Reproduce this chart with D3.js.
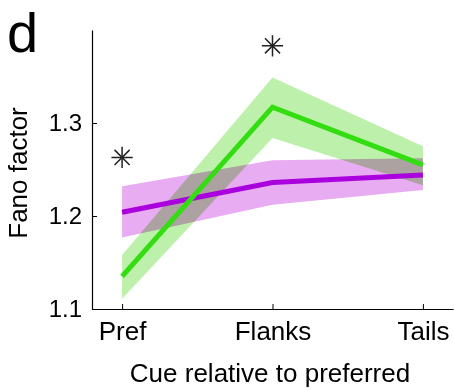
<!DOCTYPE html>
<html><head><meta charset="utf-8">
<script src="https://cdn.jsdelivr.net/npm/d3@7"></script>
<style>body{margin:0;background:#fff}svg{display:block;font-family:"Liberation Sans",Arial,sans-serif}</style>
</head><body><svg id="c" width="454" height="390"></svg>
<script>
const categories = ["Pref", "Flanks", "Tails"];
const greenMean  = [1.135, 1.317, 1.255];
const greenLow   = [1.111, 1.284, 1.233];
const greenHigh  = [1.158, 1.349, 1.275];
const purpleMean = [1.204, 1.236, 1.244];
const purpleLow  = [1.177, 1.212, 1.228];
const purpleHigh = [1.232, 1.260, 1.262];
const starCats   = [0, 1];
const starValues = [1.263, 1.383];
const yTicks     = [1.1, 1.2, 1.3];

const svg = d3.select("#c");
const x = d3.scaleLinear().domain([-0.2, 2.2]).range([92, 453]);
const y = d3.scaleLinear().domain([1.1, 1.4]).range([309, 30]);

const band = (lo, hi) => d3.area().x((d,i)=>x(i)).y0((d,i)=>y(lo[i])).y1((d,i)=>y(hi[i]))(categories);
const line = (v) => d3.line().x((d,i)=>x(i)).y((d,i)=>y(v[i]))(categories);

svg.append("path").attr("d", band(greenLow, greenHigh)).attr("fill", "#bdf0aa");
svg.append("path").attr("d", band(purpleLow, purpleHigh)).attr("fill", "#e8acf2").style("mix-blend-mode","multiply");
svg.append("path").attr("d", line(purpleMean)).attr("fill","none").attr("stroke","#aa00dd").attr("stroke-width",5);
svg.append("path").attr("d", line(greenMean)).attr("fill","none").attr("stroke","#33dd11").attr("stroke-width",5);

// axes
const xAxis = d3.axisBottom(x).tickValues([0,1,2]).tickFormat(i=>categories[i]).tickSizeInner(-5).tickSizeOuter(0).tickPadding(13);
const gx = svg.append("g").attr("transform","translate(0,309)").call(xAxis);
gx.selectAll("text").attr("font-size",26).attr("fill","#000");
const yAxis = d3.axisLeft(y).tickValues(yTicks).tickFormat(d3.format(".1f")).tickSizeInner(-5).tickSizeOuter(0).tickPadding(10);
const gy = svg.append("g").attr("transform","translate(92,0)").call(yAxis);
gy.selectAll("text").attr("font-size",24).attr("fill","#000");
[gx, gy].forEach(g => { g.select(".domain").attr("stroke","#000").attr("stroke-width",1.2); g.selectAll(".tick line").attr("stroke","#000"); g.attr("font-family",null); });

// stars
starCats.forEach((c,i) => {
  const g = svg.append("g").attr("transform",`translate(${x(c)},${y(starValues[i])})`);
  g.append("path").attr("d", d3.symbol(d3.symbolPlus, 150)()).attr("stroke","#222").attr("stroke-width",1.5).attr("fill","none");
  g.append("path").attr("d", d3.symbol(d3.symbolTimes, 150)()).attr("stroke","#222").attr("stroke-width",1.5).attr("fill","none");
});

// labels
svg.append("text").attr("x",270).attr("y",382).attr("text-anchor","middle").attr("font-size",26).text("Cue relative to preferred");
svg.append("text").attr("transform","translate(27,173) rotate(-90)").attr("text-anchor","middle").attr("font-size",26).text("Fano factor");
svg.append("text").attr("x",7).attr("y",52).attr("font-size",56).text("d");
</script></body></html>
